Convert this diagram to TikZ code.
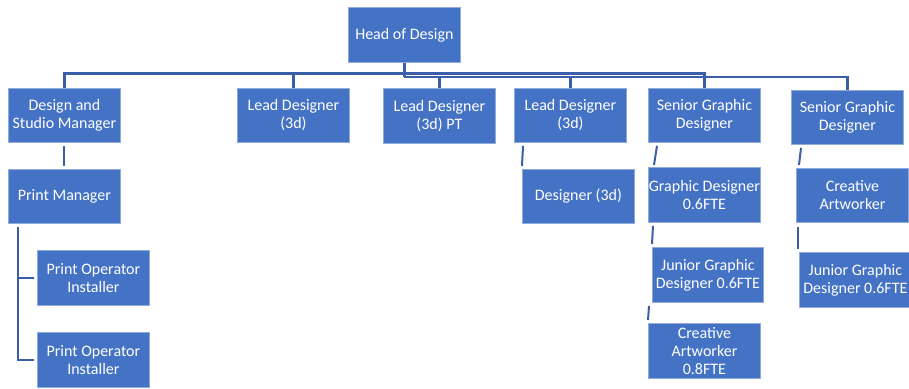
\documentclass[tikz,border=0pt]{standalone}
\usepackage{fontspec}
\setmainfont{Carlito}
\definecolor{boxblue}{HTML}{4472C4}
\definecolor{boxedge}{HTML}{8FAADC}
\definecolor{linkblue}{RGB}{58,95,168}
\begin{document}
\begin{tikzpicture}[x=1pt,y=-1pt,
  card/.style={draw=boxedge, line width=0.8pt, fill=boxblue, text=white, align=center,
    inner sep=0pt, anchor=north west, minimum width=112pt, minimum height=54pt,
    font=\fontsize{16}{18}\selectfont},
  link/.style={draw=linkblue, line width=2.2pt},
  sublink/.style={draw=linkblue, line width=2pt}]
\useasboundingbox (0,0) rectangle (909,388);
% top
\node[card, minimum height=55pt] (head) at (348,7) {Head of Design};
% row 1
\node[card] (dsm)  at (8,88)   {Design and\\Studio Manager};
\node[card] (ld1)  at (237,88) {Lead Designer\\(3d)};
\node[card, minimum height=55pt] (ldpt) at (383,88) {Lead Designer\\(3d) PT};
\node[card] (ld2)  at (514,88) {Lead Designer\\(3d)};
\node[card] (sgd1) at (648,88) {Senior Graphic\\Designer};
\node[card] (sgd2) at (791,90) {Senior Graphic\\Designer};
% lower rows
\node[card] (pm)   at (8,169)  {Print Manager};
\node[card, minimum height=55pt] (po1) at (37,250) {Print Operator\\Installer};
\node[card, minimum height=55pt] (po2) at (37,332) {Print Operator\\Installer};
\node[card] (d3)   at (522,169) {Designer (3d)};
\node[card, minimum height=55pt] (gd)   at (648,167) {Graphic Designer\\0.6FTE};
\node[card, minimum width=111pt, minimum height=55pt] (jgd1) at (652,247) {Junior Graphic\\Designer 0.6FTE};
\node[card, minimum height=55pt] (ca1)  at (648,323) {Creative\\Artworker\\0.8FTE};
\node[card] (ca2)  at (796,168) {Creative\\Artworker};
\node[card, minimum height=55pt] (jgd2) at (799,252) {Junior Graphic\\Designer 0.6FTE};
% buses
\coordinate (busA) at (0,73.5);
\coordinate (busB) at (0,77);
\draw[link] (head.south) -- (head.south |- busB);
\draw[link] (dsm.north) |- (head.south |- busA);
\draw[link] (ld1.north) -- (ld1.north |- busA);
\draw[link] (sgd1.north) |- (head.south |- busA);
\draw[link] (sgd2.north) |- (head.south |- busB);
\draw[link] (ldpt.north) -- (ldpt.north |- busB);
\draw[link] (ld2.north) -- (ld2.north |- busB);
% lower connectors
\draw[sublink] ([yshift=-3pt]dsm.south) -- ([yshift=3pt]pm.north);
\coordinate (pmk) at ([shift={(10pt,-3pt)}]pm.south west);
\draw[sublink] (pmk) |- ([xshift=-3pt]po2.west);
\draw[sublink] (pmk |- po1.west) -- ([xshift=-3pt]po1.west);
\draw[sublink] ([shift={(9pt,-3pt)}]ld2.south west) -- ([shift={(0pt,3pt)}]d3.north west);
\draw[sublink] ([shift={(9pt,-3pt)}]sgd1.south west) -- ([shift={(6pt,2pt)}]gd.north west);
\draw[sublink] ([shift={(5pt,-3pt)}]gd.south west) -- ([shift={(0pt,3pt)}]jgd1.north west);
\draw[sublink] ([shift={(-3pt,-3pt)}]jgd1.south west) -- ([shift={(0pt,3pt)}]ca1.north west);
\draw[sublink] ([shift={(10pt,-3pt)}]sgd2.south west) -- ([shift={(3pt,3pt)}]ca2.north west);
\draw[sublink] ([shift={(2pt,-4pt)}]ca2.south west) -- ([shift={(-1pt,3pt)}]jgd2.north west);
\end{tikzpicture}
\end{document}
